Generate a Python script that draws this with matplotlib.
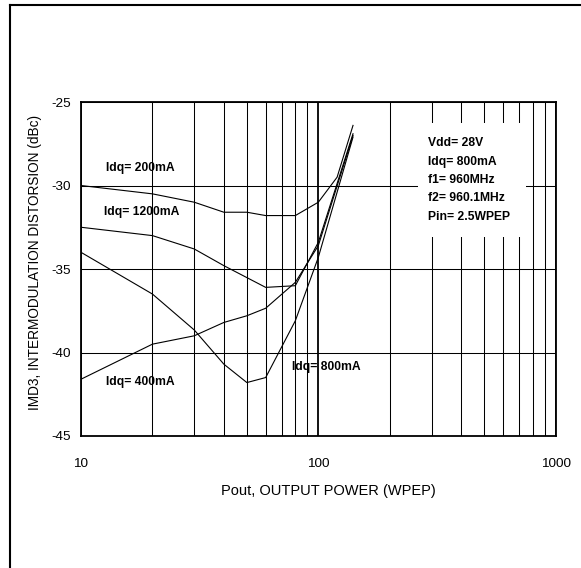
import numpy as np
import matplotlib
matplotlib.use("Agg")
import matplotlib.pyplot as plt
from matplotlib.patches import Rectangle
from matplotlib.ticker import FixedLocator, NullFormatter, FixedFormatter

plt.rcParams['font.family'] = ['Liberation Sans', 'DejaVu Sans']
plt.rcParams['axes.unicode_minus'] = False

# Pout (WPEP) and IMD3 (dBc)
p_200 = [10, 20, 30, 40, 50, 60, 80, 100, 120, 140]
imd_200 = [-30.0, -30.5, -31.0, -31.6, -31.6, -31.8, -31.8, -31.0, -29.5, -26.4]

p_1200 = [10, 20, 30, 40, 60, 80, 100, 140]
imd_1200 = [-32.5, -33.0, -33.8, -34.8, -36.1, -36.0, -33.4, -26.9]

p_400 = [10, 20, 30, 40, 50, 60, 80, 100, 140]
imd_400 = [-41.6, -39.5, -39.0, -38.2, -37.8, -37.35, -35.8, -33.6, -27.0]

p_800 = [10, 20, 30, 40, 50, 60, 80, 100, 140]
imd_800 = [-34.0, -36.5, -38.65, -40.7, -41.8, -41.5, -38.1, -34.3, -27.1]

x_ticks = [10, 100, 1000]
x_labels = ["10", "100", "1000"]
y_ticks = [-45, -40, -35, -30, -25]
cond_lines = ["Vdd= 28V", "Idq= 800mA", "f1= 960MHz", "f2= 960.1MHz", "Pin= 2.5WPEP"]

fig = plt.figure(figsize=(5.81, 5.68), dpi=100)
ax = fig.add_axes([0.1394, 0.2324, 0.817, 0.588])

ax.set_xscale("log")
ax.set_xlim(10, 1000)
ax.set_ylim(-45, -25)

minor = [m * d for d in (10, 100) for m in range(2, 10)]
ax.xaxis.set_major_locator(FixedLocator(x_ticks))
ax.xaxis.set_major_formatter(FixedFormatter(x_labels))
ax.xaxis.set_minor_locator(FixedLocator(minor))
ax.xaxis.set_minor_formatter(NullFormatter())
ax.set_yticks(y_ticks)

ax.grid(True, which="major", axis="x", color="black", lw=1.3)
ax.grid(True, which="minor", axis="x", color="black", lw=0.75)
ax.grid(True, which="major", axis="y", color="black", lw=0.75)
ax.set_axisbelow(True)
ax.tick_params(which="both", length=0)
ax.tick_params(axis="x", pad=16, labelsize=9.7)
ax.tick_params(axis="y", pad=7, labelsize=9.7)
for s in ax.spines.values():
    s.set_linewidth(1.3)

for xs, ys in [(p_200, imd_200), (p_1200, imd_1200), (p_400, imd_400), (p_800, imd_800)]:
    ax.plot(xs, ys, color="black", lw=0.8, zorder=3)

ax.add_patch(Rectangle((0.710, 0.596), 0.2275, 0.341, transform=ax.transAxes,
                       facecolor="white", edgecolor="none", zorder=2.5))
for i, t in enumerate(cond_lines):
    ax.text(0.731, 0.876 - i * 0.0549, t, transform=ax.transAxes, fontsize=8.7,
            fontweight="bold", va="center", ha="left", zorder=4)

ax.text(0.052, 0.803, "Idq= 200mA", transform=ax.transAxes, fontsize=8.7,
        fontweight="bold", va="center", zorder=4)
ax.text(0.0485, 0.670, "Idq= 1200mA", transform=ax.transAxes, fontsize=8.7,
        fontweight="bold", va="center", zorder=4)
ax.text(0.052, 0.161, "Idq= 400mA", transform=ax.transAxes, fontsize=8.7,
        fontweight="bold", va="center", zorder=4)
ax.text(0.444, 0.2075, "Idq= 800mA", transform=ax.transAxes, fontsize=8.7,
        fontweight="bold", va="center", zorder=4)

ax.set_xlabel("Pout, OUTPUT POWER (WPEP)", fontsize=10.5)
ax.set_ylabel("IMD3, INTERMODULATION DISTORSION (dBc)", fontsize=9.8)
ax.xaxis.set_label_coords(0.522, -0.144)
ax.yaxis.set_label_coords(-0.082, 0.519)

# page frame lines at top and left
fig.add_artist(plt.Line2D([9.5 / 581, 1], [1 - 5 / 568, 1 - 5 / 568], transform=fig.transFigure,
                          color="black", lw=1.5))
fig.add_artist(plt.Line2D([9.5 / 581, 9.5 / 581], [0, 1 - 5 / 568], transform=fig.transFigure,
                          color="black", lw=1.5))

fig.savefig("out.png", dpi=100)
